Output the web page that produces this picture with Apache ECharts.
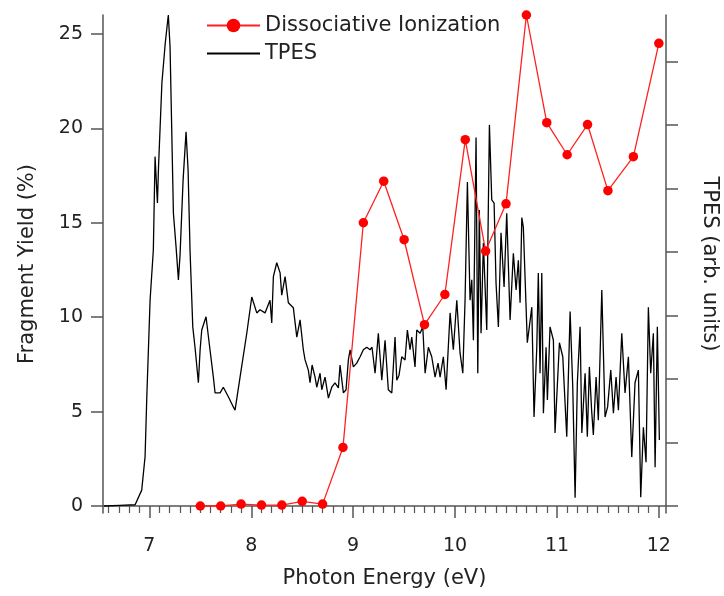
<!DOCTYPE html>
<html>
<head>
<meta charset="utf-8">
<script src="https://cdn.jsdelivr.net/npm/echarts@6/dist/echarts.min.js"></script>
<style>
  html, body { margin: 0; padding: 0; background: #fff; }
  #chart { width: 724px; height: 596px; }
</style>
</head>
<body>
<div id="chart"></div>
<script>
// Dissociative ionization fragment yield (%)
const diEnergy = [7.5, 7.7, 7.9, 8.1, 8.3, 8.5, 8.7, 8.9, 9.1, 9.3, 9.5, 9.7, 9.9, 10.1, 10.3, 10.5, 10.7, 10.9, 11.1, 11.3, 11.5, 11.75, 12.0];
const diYield = [0, 0, 0.1, 0.05, 0.05, 0.25, 0.1, 3.1, 15.0, 17.2, 14.1, 9.6, 11.2, 19.4, 13.5, 16.0, 26.0, 20.3, 18.6, 20.2, 16.7, 18.5, 24.5];

// TPES signal (arb. units), [energy eV, signal]
const tpes = [
  [6.555, 0.0], [6.71, 0.01], [6.86, 0.02], [6.925, 0.25], [6.958, 0.78], [6.974, 1.67],
  [7.007, 3.24], [7.039, 4.03], [7.056, 5.50], [7.079, 4.77], [7.09, 5.34], [7.123, 6.66],
  [7.156, 7.29], [7.186, 7.73], [7.203, 7.23], [7.236, 4.61], [7.262, 4.08], [7.285, 3.56],
  [7.301, 3.95], [7.331, 5.13], [7.36, 5.89], [7.38, 5.29], [7.399, 4.03], [7.426, 2.82],
  [7.448, 2.50], [7.481, 1.94], [7.498, 2.46], [7.514, 2.77], [7.556, 2.98], [7.595, 2.46],
  [7.628, 2.03], [7.645, 1.78], [7.694, 1.78], [7.726, 1.87], [7.775, 1.72], [7.824, 1.56],
  [7.841, 1.51], [7.89, 2.03], [7.956, 2.72], [8.005, 3.29], [8.054, 3.04], [8.086, 3.09],
  [8.135, 3.04], [8.184, 3.24], [8.201, 2.88], [8.217, 3.61], [8.25, 3.83], [8.283, 3.67],
  [8.299, 3.32], [8.332, 3.61], [8.364, 3.20], [8.413, 3.12], [8.447, 2.66], [8.479, 2.93],
  [8.511, 2.46], [8.528, 2.30], [8.56, 2.14], [8.577, 1.94], [8.597, 2.22], [8.626, 2.03],
  [8.643, 1.87], [8.675, 2.09], [8.692, 1.83], [8.724, 2.03], [8.757, 1.70], [8.79, 1.87],
  [8.822, 1.94], [8.855, 1.86], [8.871, 2.22], [8.904, 1.78], [8.93, 1.83], [8.953, 2.30],
  [8.97, 2.46], [9.002, 2.19], [9.035, 2.25], [9.068, 2.35], [9.1, 2.46], [9.133, 2.50],
  [9.166, 2.46], [9.185, 2.50], [9.215, 2.09], [9.247, 2.72], [9.281, 1.98], [9.313, 2.61],
  [9.345, 1.83], [9.379, 1.78], [9.411, 2.66], [9.428, 1.98], [9.45, 2.06], [9.477, 2.35],
  [9.509, 2.30], [9.532, 2.77], [9.558, 2.46], [9.575, 2.66], [9.607, 2.19], [9.624, 2.77],
  [9.657, 2.72], [9.683, 2.82], [9.706, 2.09], [9.738, 2.50], [9.771, 2.35], [9.804, 2.03],
  [9.833, 2.25], [9.853, 2.03], [9.885, 2.35], [9.912, 1.83], [9.951, 3.04], [9.983, 2.46],
  [10.017, 3.24], [10.049, 2.41], [10.076, 2.09], [10.098, 3.24], [10.121, 5.10], [10.147, 3.24],
  [10.164, 3.56], [10.18, 2.61], [10.206, 5.80], [10.223, 2.09], [10.238, 4.66], [10.255, 2.72],
  [10.278, 4.14], [10.311, 2.77], [10.337, 6.00], [10.36, 4.82], [10.383, 4.77], [10.402, 3.51],
  [10.425, 2.82], [10.451, 4.30], [10.481, 3.45], [10.507, 4.61], [10.54, 2.93], [10.572, 3.98],
  [10.599, 3.40], [10.621, 3.87], [10.638, 3.20], [10.655, 4.54], [10.67, 4.39], [10.709, 2.57],
  [10.753, 3.13], [10.775, 1.40], [10.802, 2.50], [10.817, 3.67], [10.834, 2.09], [10.851, 3.67],
  [10.867, 1.46], [10.893, 2.50], [10.906, 1.67], [10.932, 2.82], [10.965, 2.61], [10.981, 1.15],
  [11.024, 2.57], [11.057, 2.35], [11.096, 1.09], [11.129, 3.06], [11.155, 1.87], [11.178, 0.13],
  [11.2, 1.94], [11.227, 2.82], [11.244, 1.15], [11.276, 2.09], [11.298, 1.09], [11.318, 2.19],
  [11.34, 1.51], [11.357, 1.12], [11.384, 2.03], [11.406, 1.35], [11.44, 3.40], [11.472, 1.40],
  [11.497, 1.56], [11.528, 2.14], [11.554, 1.46], [11.58, 2.03], [11.603, 1.51], [11.636, 2.72],
  [11.668, 1.78], [11.701, 2.35], [11.734, 0.77], [11.766, 1.94], [11.799, 2.14], [11.822, 0.14],
  [11.848, 1.24], [11.874, 0.69], [11.897, 3.13], [11.92, 2.09], [11.946, 2.72], [11.963, 0.61],
  [11.985, 2.82], [12.005, 1.04]
];

// tick labels
const xTicks = [7, 8, 9, 10, 11, 12];
const yTicks = [0, 5, 10, 15, 20, 25];
const tpesTicks = [0, 1, 2, 3, 4, 5, 6, 7];

// minor ticks every 0.1 eV
const xMinor = [];
for (let i = 66; i <= 120; i++) {
  if (i % 10 !== 0) xMinor.push(i / 10);
}

const chart = echarts.init(document.getElementById('chart'));
const axisColor = '#555';
const font = 'DejaVu Sans';

const option = {
  backgroundColor: '#fff',
  animation: false,
  textStyle: { fontFamily: font },
  legend: {
    orient: 'vertical',
    left: 201,
    top: 10,
    itemWidth: 53,
    itemHeight: 17,
    itemGap: 7,
    textStyle: { fontSize: 21, color: '#222', fontFamily: font },
    data: [
      { name: 'Dissociative Ionization' },
      { name: 'TPES', itemStyle: { opacity: 0 } }
    ]
  },
  grid: { left: 103, right: 58, top: 15, bottom: 83, outerBoundsMode: 'none', containLabel: false },
  xAxis: [
    {
      type: 'value',
      position: 'bottom',
      min: 6.545,
      max: 12.07,
      name: 'Photon Energy (eV)',
      nameLocation: 'middle',
      nameGap: 55,
      nameTextStyle: { fontSize: 21, color: '#222' },
      axisLine: { lineStyle: { color: axisColor, width: 1.5 } },
      axisTick: { customValues: xTicks, length: 12, lineStyle: { color: axisColor, width: 1.5 } },
      axisLabel: { customValues: xTicks, fontSize: 19, color: '#222', margin: 24 },
      splitLine: { show: false }
    },
    {
      type: 'value',
      position: 'bottom',
      min: 6.545,
      max: 12.07,
      axisLine: { show: false },
      axisTick: { customValues: xMinor, length: 7, lineStyle: { color: axisColor, width: 1.2 } },
      axisLabel: { show: false },
      splitLine: { show: false }
    }
  ],
  yAxis: [
    {
      type: 'value',
      position: 'left',
      min: -0.37,
      max: 26.0,
      name: 'Fragment Yield (%)',
      nameLocation: 'middle',
      nameGap: 65,
      nameTextStyle: { fontSize: 21, color: '#222' },
      axisLine: { show: true, lineStyle: { color: axisColor, width: 1.5 } },
      axisTick: { show: true, customValues: yTicks, length: 12, lineStyle: { color: axisColor, width: 1.5 } },
      axisLabel: { customValues: yTicks, fontSize: 19, color: '#222', margin: 20 },
      splitLine: { show: false }
    },
    {
      type: 'value',
      position: 'right',
      min: -0.11,
      max: 7.73,
      name: 'TPES (arb. units)',
      nameLocation: 'middle',
      nameRotate: -90,
      nameGap: 33,
      nameTextStyle: { fontSize: 21, color: '#222' },
      axisLine: { show: true, lineStyle: { color: axisColor, width: 1.5 } },
      axisTick: { show: true, customValues: tpesTicks, length: 12, lineStyle: { color: axisColor, width: 1.5 } },
      axisLabel: { show: false },
      splitLine: { show: false }
    }
  ],
  series: [
    {
      name: 'TPES',
      type: 'line',
      xAxisIndex: 0,
      yAxisIndex: 1,
      showSymbol: false,
      symbol: 'none',
      itemStyle: { color: '#000' },
      lineStyle: { color: '#000', width: 1.3 },
      data: tpes,
      z: 2
    },
    {
      name: 'Dissociative Ionization',
      type: 'line',
      xAxisIndex: 0,
      yAxisIndex: 0,
      symbol: 'circle',
      symbolSize: 9.5,
      itemStyle: { color: '#ff0000' },
      lineStyle: { color: '#ff2020', width: 1.3 },
      data: diEnergy.map((e, i) => [e, diYield[i]]),
      z: 3
    }
  ]
};

chart.setOption(option);
</script>
</body>
</html>
